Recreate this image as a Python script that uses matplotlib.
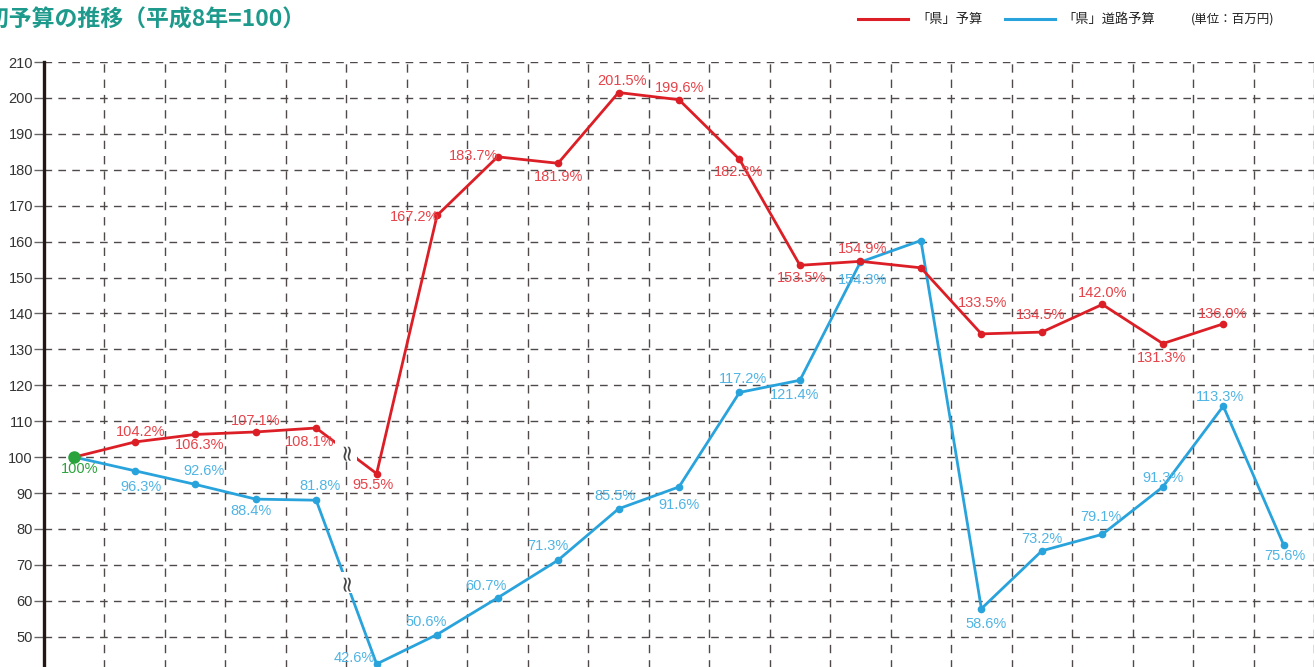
import matplotlib.pyplot as plt
import matplotlib.lines as mlines
import numpy as np

# 「県」予算 / 「県」道路予算 (平成8年=100)
red_vals = [100, 104.2, 106.3, 107.0, 108.1, 95.4, 167.3, 183.6, 181.8, 201.5,
            199.5, 182.9, 153.4, 154.5, 152.7, 134.3, 134.8, 142.5, 131.6, 137.1]
blue_vals = [100, 96.2, 92.4, 88.3, 88.0, 42.4, 50.6, 60.8, 71.3, 85.6, 91.7,
             118.0, 121.4, 154.3, 160.3, 57.8, 73.9, 78.5, 91.7, 114.2, 75.5]

red_labels = ['', '104.2%', '106.3%', '107.1%', '108.1%', '95.5%', '167.2%', '183.7%',
              '181.9%', '201.5%', '199.6%', '182.3%', '153.5%', '154.9%', '',
              '133.5%', '134.5%', '142.0%', '131.3%', '136.0%']
blue_labels = ['100%', '96.3%', '92.6%', '88.4%', '81.8%', '42.6%', '50.6%', '60.7%',
               '71.3%', '85.5%', '91.6%', '117.2%', '121.4%', '154.3%', '',
               '58.6%', '73.2%', '79.1%', '91.3%', '113.3%', '75.6%']

y_ticks = list(range(40, 211, 10))

# ラベルの位置 (pixel offset)
red_off = [(0, 0), (6, 10), (4, -11), (0, 11), (-7, -14), (-4, -11), (-23, -2), (-24, 1),
           (1, -14), (3, 12), (1, 12), (-1, -13), (2, -13), (2, 12), (0, 0),
           (1, 31), (-1, 17), (0, 11), (-1, -14), (-1, 10)]
blue_off = [(5, -12), (6, -16), (9, 13), (-5, -12), (4, 14), (-22, 6), (-11, 13), (-12, 12),
            (-10, 14), (-4, 13), (0, -18), (4, 13), (-5, -15), (2, -18), (0, 0),
            (5, -15), (0, 12), (-1, 17), (0, 9), (-3, 9), (1, -11)]

RED = '#dc1f26'
BLUE = '#29a3dc'
RED_T = '#e6434a'
BLUE_T = '#4fb4e4'
GREEN = '#2aa33c'
GRID = '#4f4949'
CJK = ['Noto Sans CJK JP', 'DejaVu Sans']
NUM = ['Liberation Sans Narrow', 'Liberation Sans', 'DejaVu Sans']

fig = plt.figure(figsize=(13.15, 6.67), dpi=100)
W, H = 1315, 667
ax = fig.add_axes([44 / W, (667 - 672.6) / H, (1314 - 44) / W, (672.6 - 62) / H])

xr = np.arange(len(red_vals))
xb = np.arange(len(blue_vals))
ax.set_xlim(-0.5, 20.5)
ax.set_ylim(40, 210)

# グリッド
for y in y_ticks:
    ax.axhline(y, color=GRID, lw=1.0, ls=(0, (5.5, 4.5)), zorder=1)
for x in np.arange(0.5, 20.6, 1):
    ax.axvline(x, color=GRID, lw=1.0, ls=(0, (6, 5)), zorder=1)

ax.plot(xb, blue_vals, color=BLUE, lw=2.0, marker='o', ms=4.5, zorder=3)
ax.plot(xr, red_vals, color=RED, lw=2.0, marker='o', ms=4.5, zorder=4)
ax.plot([0], [red_vals[0]], 'o', color=GREEN, ms=8, zorder=5)

for i, (v, t) in enumerate(zip(red_vals, red_labels)):
    if t:
        ax.annotate(t, (i, v), xytext=red_off[i], textcoords='offset pixels',
                    ha='center', va='center', color=RED_T, fontsize=10.5, family=NUM, zorder=6)
for i, (v, t) in enumerate(zip(blue_vals, blue_labels)):
    if t:
        c = GREEN if i == 0 else BLUE_T
        ax.annotate(t, (i, v), xytext=blue_off[i], textcoords='offset pixels',
                    ha='center', va='center', color=c, fontsize=10.5, family=NUM, zorder=6)

# 省略記号
for vals in (red_vals, blue_vals):
    ax.text(4.5, (vals[4] + vals[5]) / 2, '≈', ha='center', va='center', fontsize=16,
            rotation=90, color='#444444', zorder=7, family='DejaVu Sans',
            bbox=dict(boxstyle='square,pad=0.05', fc='white', ec='none'))

ax.set_yticks(y_ticks)
ax.set_xticks([])
ax.tick_params(axis='y', length=7, width=1, color='#666666', labelsize=10.5,
               labelcolor='#333333', pad=1)
for lab in ax.get_yticklabels():
    lab.set_family(['Liberation Sans', 'DejaVu Sans'])
for s in ['top', 'right', 'bottom']:
    ax.spines[s].set_visible(False)
ax.spines['left'].set_linewidth(2.4)
ax.spines['left'].set_color('#231815')

# タイトル
fig.text(-36 / W, 1 - 20 / H, '当初予算の推移（平成8年=100）', ha='left', va='center',
         fontsize=16.5, fontweight='bold', color='#1d9a8c', family=CJK)

# 凡例
fig.add_artist(mlines.Line2D([858 / W, 908 / W], [1 - 19 / H] * 2, color=RED, lw=2.2))
fig.text(916 / W, 1 - 19 / H, '「県」予算', ha='left', va='center', fontsize=9.5,
         color='#222222', family=CJK)
fig.add_artist(mlines.Line2D([1005 / W, 1055 / W], [1 - 19 / H] * 2, color=BLUE, lw=2.2))
fig.text(1062 / W, 1 - 19 / H, '「県」道路予算', ha='left', va='center', fontsize=9.5,
         color='#222222', family=CJK)
fig.text(1191 / W, 1 - 19 / H, '(単位：百万円)', ha='left', va='center', fontsize=9,
         color='#222222', family=CJK)

fig.savefig('out.png', dpi=100)
